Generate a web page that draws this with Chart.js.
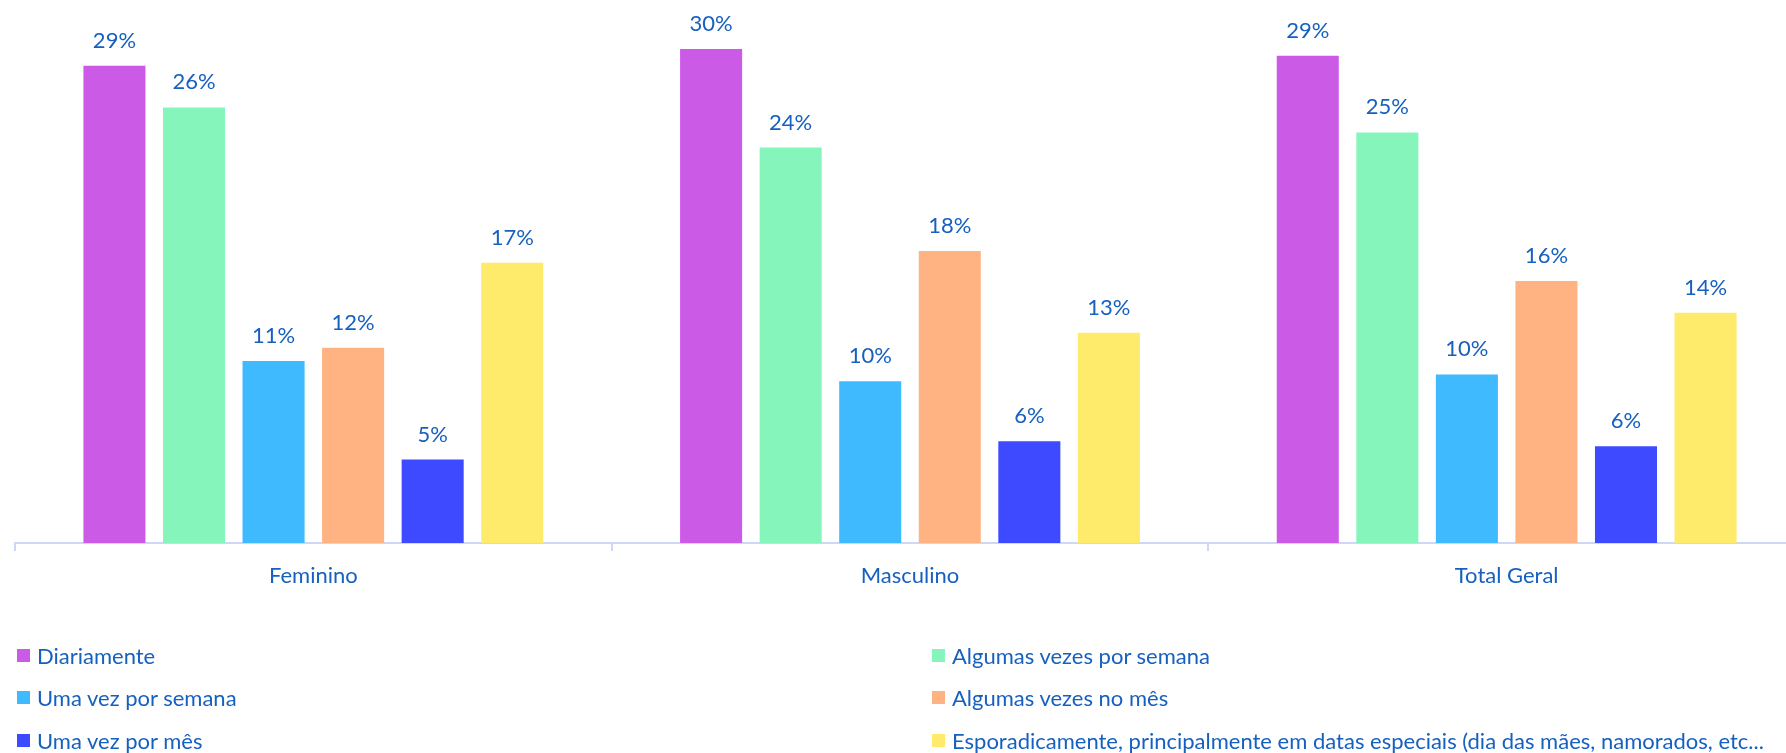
<!DOCTYPE html>
<html>
<head>
<meta charset="utf-8">
<script src="https://cdn.jsdelivr.net/npm/chart.js@4/dist/chart.umd.min.js"></script>
<style>
  html, body { margin: 0; padding: 0; background: #ffffff; }
  body { width: 1786px; height: 753px; overflow: hidden; position: relative; font-family: Lato, "Open Sans", sans-serif; }
  #wrap { position: absolute; left: 0; top: 0; width: 1820px; height: 600px; }
  #legend { position: absolute; left: 0; top: 0; width: 1786px; height: 753px; pointer-events: none; }
  .item { position: absolute; display: flex; align-items: center; white-space: nowrap; color: #1660c0; font-size: 22px; }
  .sw { width: 13px; height: 13px; margin-right: 7px; flex: none; }
</style>
</head>
<body>
<div id="wrap"><canvas id="chart" width="1820" height="600"></canvas></div>
<div id="legend"></div>
<script>
// Grupos no eixo X
const categories = ['Feminino', 'Masculino', 'Total Geral'];

// Frequência (percentual) por grupo
const seriesNames = [
  'Diariamente',
  'Algumas vezes por semana',
  'Uma vez por semana',
  'Algumas vezes no mês',
  'Uma vez por mês',
  'Esporadicamente, principalmente em datas especiais (dia das mães, namorados, etc...'
];
const diariamente        = [28.6, 29.6, 29.2];
const algumasVezesSemana = [26.1, 23.7, 24.6];
const umaVezSemana       = [10.9,  9.7, 10.1];
const algumasVezesMes    = [11.7, 17.5, 15.7];
const umaVezMes          = [ 5.0,  6.1,  5.8];
const esporadicamente    = [16.8, 12.6, 13.8];

const seriesValues = [diariamente, algumasVezesSemana, umaVezSemana, algumasVezesMes, umaVezMes, esporadicamente];
const seriesColors = ['#cb5be6', '#86f5bc', '#40baff', '#ffb382', '#3d4aff', '#ffeb6b'];

const textBlue = '#1660c0';
const axisColor = '#cdd7fa';

const datasets = seriesNames.map((name, i) => ({
  label: name,
  data: seriesValues[i],
  backgroundColor: seriesColors[i],
  borderWidth: 0,
  categoryPercentage: 0.8,
  barPercentage: 0.78
}));

// Rótulos de valor acima de cada barra
const valueLabels = {
  id: 'valueLabels',
  afterDatasetsDraw(chart) {
    const ctx = chart.ctx;
    ctx.save();
    ctx.font = '22px Lato, "Open Sans", sans-serif';
    ctx.fillStyle = textBlue;
    ctx.textAlign = 'center';
    ctx.textBaseline = 'alphabetic';
    chart.data.datasets.forEach((ds, di) => {
      chart.getDatasetMeta(di).data.forEach((bar, i) => {
        ctx.fillText(Math.round(ds.data[i]) + '%', bar.x, bar.y - 18);
      });
    });
    ctx.restore();
  }
};

new Chart(document.getElementById('chart'), {
  type: 'bar',
  data: { labels: categories, datasets },
  options: {
    responsive: false,
    animation: false,
    layout: { padding: { left: 15, right: 15, top: 9, bottom: 0 } },
    plugins: { legend: { display: false }, tooltip: { enabled: false } },
    scales: {
      y: { display: false, min: 0, max: 32 },
      x: {
        afterFit(scale) { scale.height = 57; },
        grid: {
          offset: true,
          drawOnChartArea: false,
          drawTicks: true,
          tickLength: 8,
          color: axisColor,
          lineWidth: 2
        },
        border: { display: true, color: axisColor, width: 2 },
        ticks: {
          color: textBlue,
          padding: 12,
          font: { family: 'Lato, "Open Sans", sans-serif', size: 22 }
        }
      }
    }
  },
  plugins: [valueLabels]
});

// Legenda em duas colunas
const legendPos = [
  { left: 17, top: 655 }, { left: 932, top: 655 },
  { left: 17, top: 697 }, { left: 932, top: 697 },
  { left: 17, top: 740 }, { left: 932, top: 740 }
];
const legend = document.getElementById('legend');
seriesNames.forEach((name, i) => {
  const item = document.createElement('div');
  item.className = 'item';
  item.style.left = legendPos[i].left + 'px';
  item.style.top = (legendPos[i].top - 14) + 'px';
  item.style.height = '28px';
  const sw = document.createElement('span');
  sw.className = 'sw';
  sw.style.background = seriesColors[i];
  const tx = document.createElement('span');
  tx.textContent = name;
  item.appendChild(sw);
  item.appendChild(tx);
  legend.appendChild(item);
});
</script>
</body>
</html>
